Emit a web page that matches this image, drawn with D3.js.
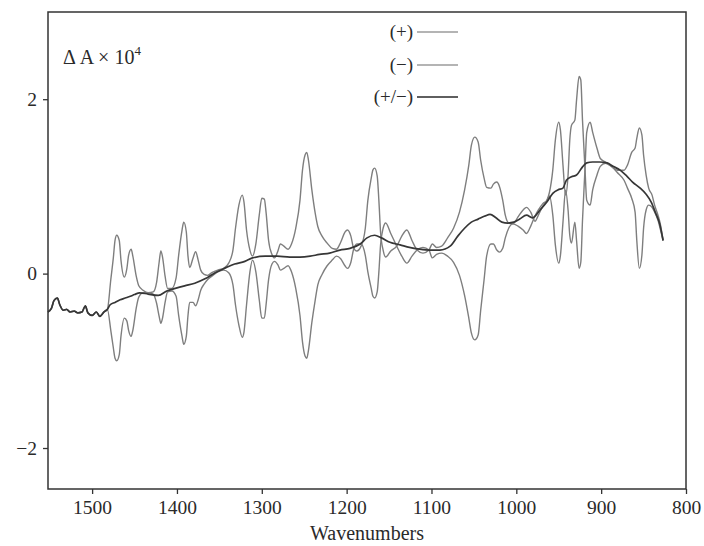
<!DOCTYPE html>
<html>
<head>
<meta charset="utf-8">
<script src="https://cdn.jsdelivr.net/npm/d3@7"></script>
<style>
  body { margin: 0; background: #fff; }
  text { font-family: "Liberation Serif", "DejaVu Serif", serif; fill: #2a2a2a; }
</style>
</head>
<body>
<div id="chart"></div>
<script>
// common noisy start (all three traces overlap here)
const startSeg = [
  [1552,-0.44],[1548,-0.40],[1545,-0.31],[1541,-0.28],[1538,-0.36],[1534,-0.42],
  [1530,-0.41],[1526,-0.44],[1521,-0.43],[1517,-0.45],[1512,-0.44],[1508,-0.37],
  [1505,-0.45],[1500,-0.48],[1495,-0.44],[1491,-0.49],[1486,-0.44],[1482,-0.41]
];

// (+/-) trace
const racemic = [
  [1479,-0.36],[1473,-0.33],[1467,-0.30],[1461,-0.28],[1455,-0.26],[1450,-0.24],
  [1444,-0.22],[1434,-0.235],[1422,-0.25],[1412,-0.20],[1402,-0.17],[1391,-0.14],
  [1379,-0.11],[1367,-0.06],[1355,0.01],[1344,0.06],[1332,0.11],[1320,0.14],
  [1311,0.18],[1296,0.20],[1282,0.20],[1267,0.19],[1255,0.19],[1243,0.20],
  [1232,0.22],[1220,0.235],[1208,0.27],[1196,0.29],[1184,0.34],[1176,0.41],
  [1167,0.44],[1159,0.41],[1149,0.36],[1137,0.33],[1126,0.30],[1114,0.28],
  [1102,0.27],[1090,0.27],[1078,0.315],[1069,0.43],[1061,0.52],[1053,0.59],
  [1045,0.625],[1037,0.66],[1031,0.68],[1024,0.64],[1017,0.59],[1010,0.58],
  [1003,0.59],[996,0.625],[988,0.67],[981,0.64],[972,0.73],[964,0.82],
  [957,0.92],[951,0.96],[945,0.98],[941,1.07],[935,1.11],[929,1.13],
  [923,1.21],[917,1.27],[910,1.28],[902,1.28],[893,1.27],[886,1.23],
  [878,1.19],[870,1.12],[863,1.05],[854,0.98],[847,0.91],[841,0.82],
  [836,0.70],[831,0.57],[827,0.38]
];

// (+) trace
const plus = [
  [1478,-0.07],[1475,0.18],[1473,0.38],[1471,0.44],[1468,0.38],[1466,0.155],
  [1462,-0.04],[1459,0.06],[1457,0.21],[1454,0.28],[1452,0.20],[1448,-0.03],
  [1445,-0.14],[1440,-0.19],[1434,-0.22],[1428,-0.21],[1424,-0.10],[1421,0.13],
  [1419,0.26],[1417,0.19],[1414,-0.03],[1411,-0.17],[1406,-0.17],[1401,-0.05],
  [1398,0.21],[1394,0.50],[1392,0.59],[1389,0.48],[1387,0.20],[1385,0.07],
  [1381,0.18],[1378,0.25],[1375,0.155],[1372,0.04],[1368,-0.01],[1364,-0.02],
  [1359,0.01],[1352,0.04],[1345,0.06],[1339,0.12],[1334,0.27],[1331,0.52],
  [1327,0.785],[1323,0.90],[1321,0.82],[1318,0.50],[1314,0.27],[1311,0.20],
  [1307,0.34],[1303,0.67],[1300,0.865],[1297,0.855],[1295,0.705],[1292,0.38],
  [1288,0.22],[1285,0.18],[1281,0.26],[1278,0.34],[1274,0.315],[1269,0.28],
  [1265,0.34],[1260,0.52],[1255,0.84],[1252,1.19],[1249,1.36],[1247,1.39],
  [1245,1.30],[1241,0.96],[1237,0.69],[1234,0.54],[1229,0.43],[1223,0.35],
  [1217,0.29],[1212,0.28],[1207,0.36],[1202,0.475],[1199,0.50],[1195,0.43],
  [1192,0.30],[1188,0.26],[1183,0.315],[1178,0.52],[1175,0.84],[1171,1.095],
  [1169,1.19],[1167,1.21],[1164,1.12],[1162,0.84],[1160,0.475],[1157,0.27],
  [1154,0.19],[1148,0.26],[1141,0.315],[1135,0.43],[1129,0.50],[1123,0.38],
  [1117,0.27],[1110,0.235],[1103,0.27],[1099,0.34],[1094,0.30],[1088,0.315],
  [1081,0.41],[1074,0.52],[1067,0.705],[1061,0.957],[1056,1.244],[1053,1.47],
  [1049,1.565],[1045,1.51],[1042,1.30],[1038,1.095],[1035,0.99],[1030,0.98],
  [1027,1.026],[1023,1.05],[1020,1.003],[1016,0.84],[1013,0.67],[1009,0.58],
  [1004,0.57],[998,0.65],[992,0.73],[988,0.76],[983,0.705],[978,0.60],
  [974,0.67],[969,0.77],[964,0.84],[961,0.93],[957,1.19],[954,1.53],
  [950,1.736],[948,1.645],[945,1.244],[942,0.90],[939,1.13],[937,1.53],
  [935,1.70],[931,1.76],[929,1.99],[926,2.26],[924,2.22],[922,1.76],
  [919,1.19],[917,0.84],[913,0.785],[910,0.96],[905,1.129],[901,1.23],
  [895,1.266],[888,1.23],[881,1.186],[873,1.186],[869,1.244],[864,1.39],
  [860,1.44],[858,1.55],[855,1.67],[852,1.59],[850,1.36],[847,1.13],
  [844,0.98],[840,0.90],[837,0.785],[833,0.67],[830,0.556],[827,0.38]
];

// (-) trace
const minus = [
  [1478,-0.65],[1475,-0.85],[1473,-0.97],[1471,-1.00],[1468,-0.93],[1466,-0.72],
  [1462,-0.51],[1459,-0.545],[1457,-0.65],[1454,-0.72],[1452,-0.65],[1448,-0.395],
  [1445,-0.27],[1440,-0.22],[1434,-0.22],[1428,-0.235],[1424,-0.34],[1421,-0.49],
  [1419,-0.57],[1417,-0.51],[1414,-0.33],[1411,-0.21],[1406,-0.20],[1401,-0.26],
  [1398,-0.48],[1394,-0.72],[1392,-0.81],[1389,-0.72],[1387,-0.48],[1385,-0.33],
  [1381,-0.33],[1378,-0.37],[1375,-0.30],[1372,-0.19],[1368,-0.12],[1364,-0.07],
  [1359,-0.03],[1352,0.02],[1345,0.04],[1339,0.01],[1334,-0.13],[1331,-0.36],
  [1327,-0.59],[1323,-0.73],[1321,-0.67],[1318,-0.36],[1314,0.02],[1311,0.155],
  [1307,0.02],[1303,-0.30],[1300,-0.51],[1297,-0.51],[1295,-0.36],[1292,-0.07],
  [1288,0.11],[1285,0.14],[1281,0.10],[1278,0.04],[1274,0.06],[1269,0.09],
  [1265,0.02],[1260,-0.17],[1255,-0.48],[1252,-0.785],[1249,-0.945],[1247,-0.97],
  [1245,-0.88],[1241,-0.56],[1237,-0.30],[1234,-0.13],[1229,-0.01],[1223,0.09],
  [1217,0.155],[1212,0.20],[1207,0.17],[1202,0.09],[1199,0.06],[1195,0.13],
  [1192,0.27],[1188,0.34],[1183,0.34],[1178,0.21],[1175,0.02],[1171,-0.17],
  [1169,-0.26],[1167,-0.28],[1164,-0.21],[1162,0.02],[1160,0.33],[1157,0.52],
  [1154,0.58],[1148,0.46],[1141,0.315],[1135,0.20],[1129,0.12],[1123,0.20],
  [1117,0.27],[1110,0.30],[1103,0.27],[1099,0.18],[1094,0.22],[1088,0.235],
  [1081,0.20],[1074,0.13],[1067,-0.02],[1061,-0.25],[1056,-0.51],[1053,-0.68],
  [1049,-0.76],[1045,-0.705],[1042,-0.42],[1038,-0.07],[1035,0.20],[1030,0.34],
  [1027,0.34],[1023,0.27],[1020,0.246],[1016,0.29],[1013,0.41],[1009,0.52],
  [1004,0.57],[998,0.545],[992,0.50],[988,0.46],[983,0.545],[978,0.66],
  [974,0.73],[969,0.80],[964,0.84],[961,0.89],[957,0.67],[954,0.33],
  [950,0.12],[948,0.21],[945,0.59],[942,0.957],[939,0.73],[937,0.44],
  [935,0.35],[931,0.59],[929,0.38],[926,0.06],[924,0.13],[922,0.61],
  [919,1.21],[917,1.62],[913,1.736],[910,1.62],[905,1.44],[901,1.32],
  [895,1.28],[888,1.23],[881,1.16],[873,1.07],[869,0.98],[864,0.865],
  [860,0.705],[858,0.38],[855,0.06],[852,0.21],[850,0.52],[847,0.73],
  [844,0.785],[840,0.76],[837,0.705],[833,0.61],[830,0.50],[827,0.38]
];

const xTicks = [1500, 1400, 1300, 1200, 1100, 1000, 900, 800];
const yTicks = [-2, 0, 2];
const legendLabels = ["(+)", "(\u2212)", "(+/\u2212)"];

const width = 704, height = 546;
const margin = {top: 12, right: 18, bottom: 57, left: 48};

const svg = d3.select("#chart").append("svg")
  .attr("width", width)
  .attr("height", height);

const x = d3.scaleLinear().domain([1552, 800]).range([margin.left, width - margin.right]);
const y = d3.scaleLinear().domain([-2.47, 3.0]).range([height - margin.bottom, margin.top]);

const line = d3.line()
  .x(d => x(d[0]))
  .y(d => y(d[1]))
  .curve(d3.curveMonotoneX);

// traces
const series = [
  {data: startSeg.concat(plus), color: "#7e7e7e", w: 1.4},
  {data: startSeg.concat(minus), color: "#7e7e7e", w: 1.4},
  {data: startSeg.concat(racemic), color: "#363636", w: 1.7}
];
series.forEach(s => {
  svg.append("path")
    .datum(s.data)
    .attr("fill", "none")
    .attr("stroke", s.color)
    .attr("stroke-width", s.w)
    .attr("stroke-linejoin", "round")
    .attr("d", line);
});

// frame
svg.append("rect")
  .attr("x", margin.left)
  .attr("y", margin.top)
  .attr("width", width - margin.left - margin.right)
  .attr("height", height - margin.top - margin.bottom)
  .attr("fill", "none")
  .attr("stroke", "#333")
  .attr("stroke-width", 1.5);

// axes
const xAxis = svg.append("g")
  .attr("transform", `translate(0,${height - margin.bottom})`)
  .call(d3.axisBottom(x).tickValues(xTicks).tickSize(5).tickPadding(6).tickFormat(d3.format("d")));
const yAxis = svg.append("g")
  .attr("transform", `translate(${margin.left},0)`)
  .call(d3.axisLeft(y).tickValues(yTicks).tickSize(5).tickPadding(6)
    .tickFormat(d => d < 0 ? "\u2212" + Math.abs(d) : d));
[xAxis, yAxis].forEach(g => {
  g.select(".domain").remove();
  g.selectAll(".tick line").attr("stroke", "#333").attr("stroke-width", 1.3);
  g.selectAll(".tick text")
    .attr("fill", "#2a2a2a")
    .style("font-family", '"Liberation Serif", serif')
    .style("font-size", "19.5px");
});

svg.append("text")
  .attr("x", (margin.left + width - margin.right) / 2)
  .attr("y", 540)
  .attr("text-anchor", "middle")
  .style("font-size", "20px")
  .text("Wavenumbers");

// y label inside plot
const yl = svg.append("text")
  .attr("x", 63)
  .attr("y", 64)
  .style("font-size", "20px");
yl.append("tspan").text("\u0394 A \u00d7 10");
yl.append("tspan").attr("dy", -9).style("font-size", "13px").text("4");

// legend
const legendY = [32, 65, 97];
const legendColor = ["#6a6a6a", "#6a6a6a", "#2a2a2a"];
legendLabels.forEach((lab, i) => {
  svg.append("text")
    .attr("x", 413)
    .attr("y", legendY[i] + 6)
    .attr("text-anchor", "end")
    .style("font-size", "19px")
    .text(lab);
  svg.append("line")
    .attr("x1", 417).attr("x2", 458)
    .attr("y1", legendY[i]).attr("y2", legendY[i])
    .attr("stroke", legendColor[i])
    .attr("stroke-width", i === 2 ? 1.7 : 1.2);
});
</script>
</body>
</html>
